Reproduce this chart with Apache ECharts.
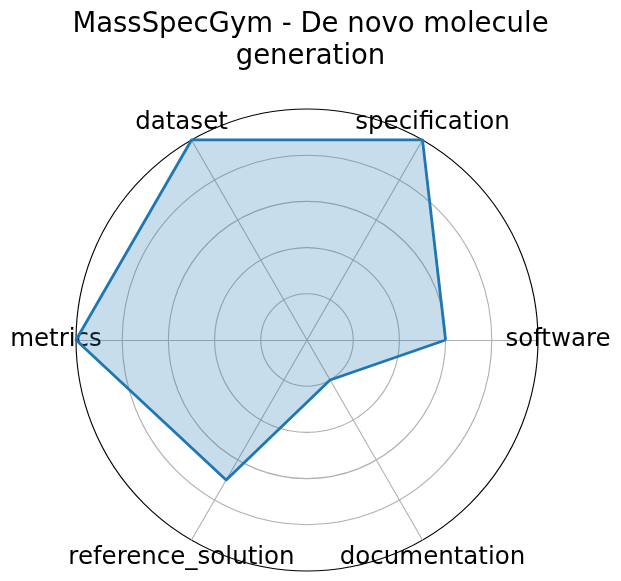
<!DOCTYPE html>
<html>
<head>
<meta charset="utf-8">
<script src="https://cdn.jsdelivr.net/npm/echarts@6/dist/echarts.min.js"></script>
<style>
html,body{margin:0;padding:0;background:#fff;}
#chart{width:621px;height:581px;}
</style>
</head>
<body>
<div id="chart"></div>
<script>
const categories = ['software', 'specification', 'dataset', 'metrics', 'reference_solution', 'documentation'];
const scores = [0.6, 1.0, 1.0, 1.0, 0.7, 0.2];
const axisMax = 1;
const titleText = 'MassSpecGym - De novo molecule\ngeneration';

const chart = echarts.init(document.getElementById('chart'), null, {renderer: 'canvas'});
chart.setOption({
  animation: false,
  backgroundColor: '#ffffff',
  title: {
    text: titleText,
    left: 'center',
    top: 4,
    textStyle: {
      fontFamily: 'DejaVu Sans',
      fontSize: 27.5,
      fontWeight: 'normal',
      color: '#000',
      lineHeight: 32,
      align: 'center'
    }
  },
  radar: {
    center: [307, 340],
    radius: 231,
    startAngle: 0,
    shape: 'circle',
    splitNumber: 5,
    indicator: categories.map(n => ({name: n, min: 0, max: axisMax})),
    nameGap: 20,
    axisName: {
      color: '#000',
      fontFamily: 'DejaVu Sans',
      fontSize: 24.5,
      align: 'center',
      verticalAlign: 'middle',
      padding: [5, 0, 0, 0]
    },
    axisLine: {show: true, lineStyle: {color: '#b0b0b0', width: 1.1}},
    axisTick: {show: false},
    axisLabel: {show: false},
    splitLine: {
      show: true,
      lineStyle: {
        color: ['#b0b0b0', '#b0b0b0', '#b0b0b0', '#b0b0b0', '#b0b0b0', '#000000'],
        width: 1.1
      }
    },
    splitArea: {show: false}
  },
  series: [{
    type: 'radar',
    symbol: 'none',
    lineStyle: {color: '#1f77b4', width: 2.8},
    areaStyle: {color: '#1f77b4', opacity: 0.25},
    data: [{value: scores, name: 'score'}]
  }]
});
</script>
</body>
</html>
